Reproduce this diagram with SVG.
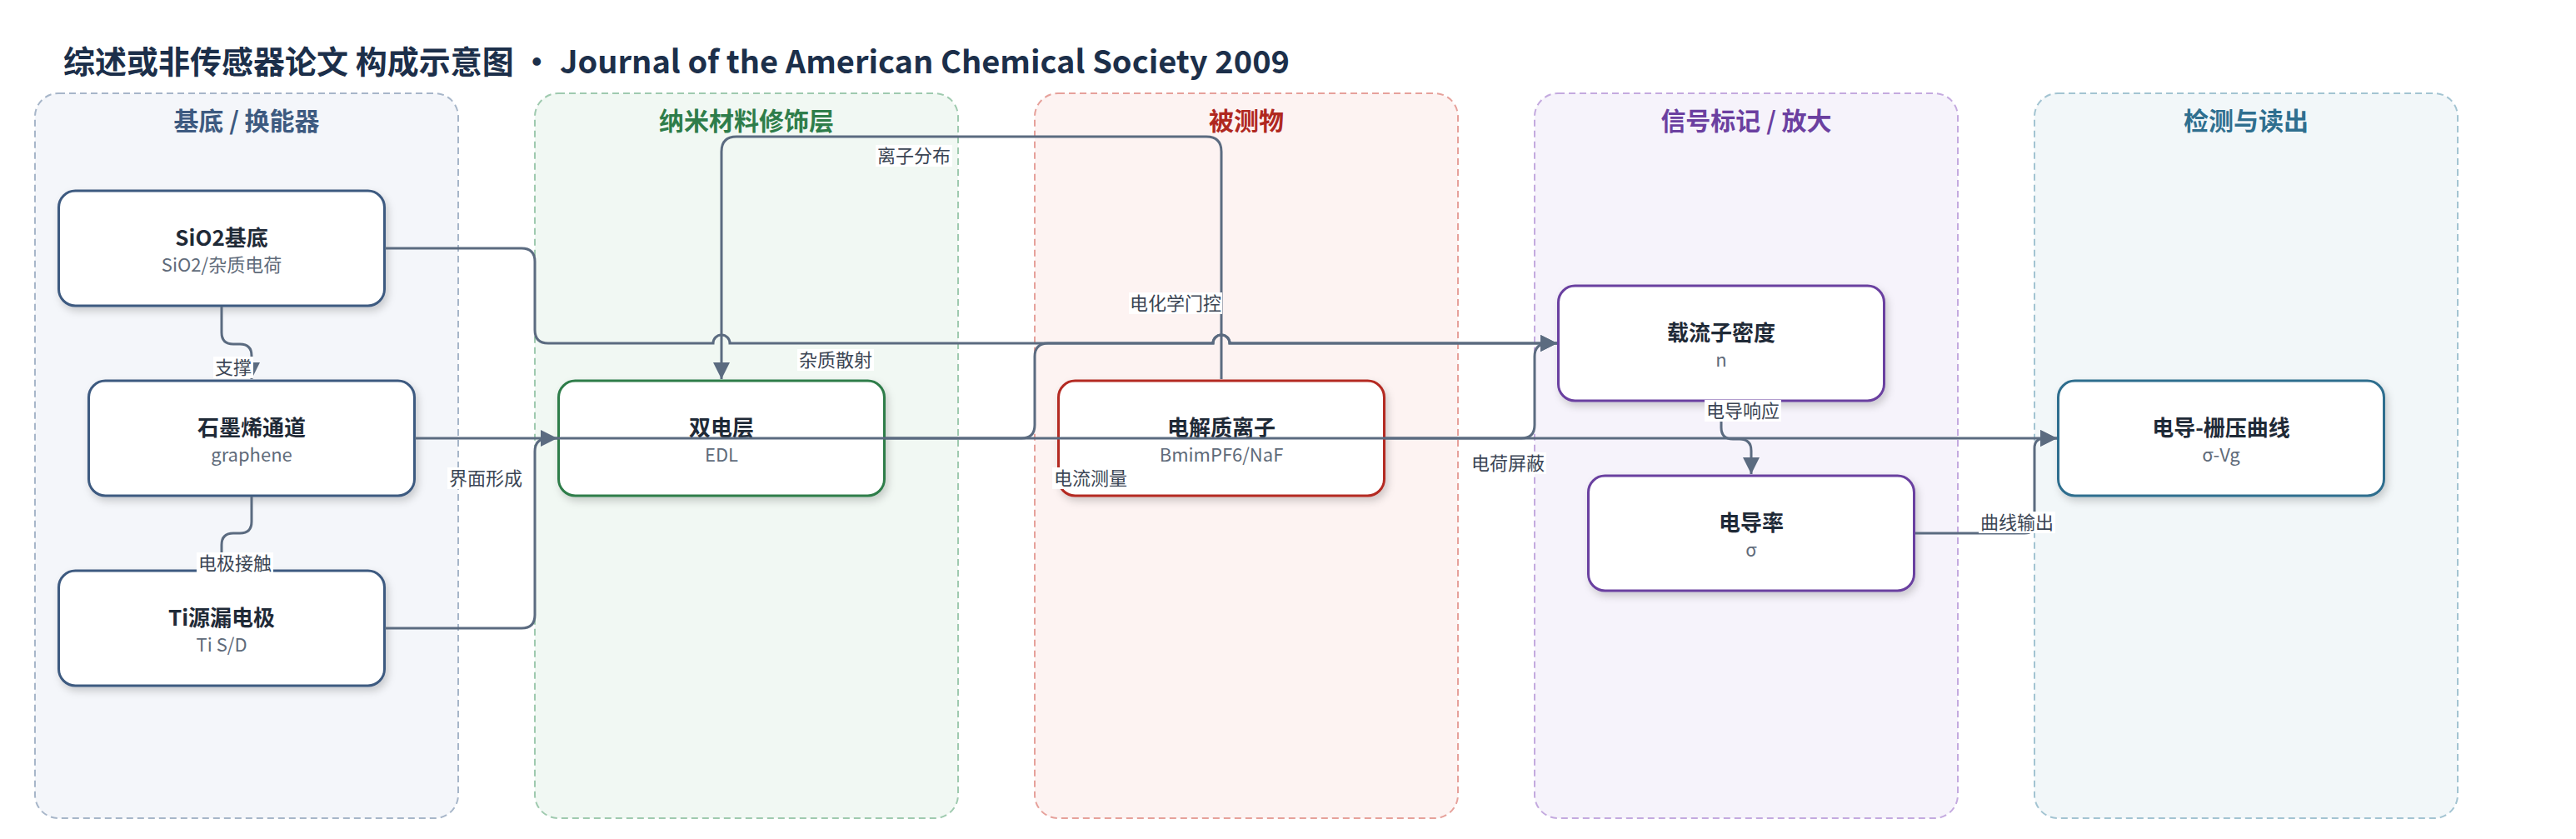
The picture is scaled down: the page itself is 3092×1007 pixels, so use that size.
<svg xmlns="http://www.w3.org/2000/svg" width="3092" height="1007" viewBox="0 0 3092 1007">
<style>
text{font-family:'Noto Sans CJK SC','Noto Sans',sans-serif}
.title{font-size:38px;font-weight:700;fill:#1c2f4a}
.gt{font-size:30px;font-weight:700;text-anchor:middle}
.grp{stroke-width:2;stroke-dasharray:8 5}
.node rect{fill:#fff;stroke-width:3;filter:url(#sh)}
.nt{font-size:26px;font-weight:700;fill:#1f2a37;text-anchor:middle}
.ns{font-size:22px;fill:#5f6b7a;text-anchor:middle}
.edge{fill:none;stroke:#5b6b80;stroke-width:3;marker-end:url(#arr)}
.lbg{fill:#fff}
.lt{font-size:22px;fill:#3b4554;text-anchor:middle}
</style>
<defs>
<marker id="arr" viewBox="0 0 20 20" refX="20" refY="10" markerWidth="20" markerHeight="20" markerUnits="userSpaceOnUse" orient="auto"><path d="M0,0 L20,10 L0,20 z" fill="#5b6b80"/></marker>
<filter id="sh" x="-10%" y="-15%" width="125%" height="145%"><feDropShadow dx="3" dy="5" stdDeviation="5" flood-color="#000" flood-opacity="0.18"/></filter>
</defs>
<rect width="3092" height="1007" fill="#fff"/>
<text class="title" x="76" y="88">综述或非传感器论文 构成示意图 · Journal of the American Chemical Society 2009</text>

<g id="group-substrate"><rect class="grp" x="42" y="112" width="508" height="870" rx="28" fill="#f4f6fa" stroke="#a7b6c9"/><text class="gt" x="296" y="156" fill="#3d5a80">基底 / 换能器</text></g>
<g id="group-nano"><rect class="grp" x="642" y="112" width="508" height="870" rx="28" fill="#f1f8f3" stroke="#9fcaaf"/><text class="gt" x="896" y="156" fill="#2e7d4a">纳米材料修饰层</text></g>
<g id="group-analyte"><rect class="grp" x="1242" y="112" width="508" height="870" rx="28" fill="#fdf3f2" stroke="#e6a19b"/><text class="gt" x="1496" y="156" fill="#b0281f">被测物</text></g>
<g id="group-signal"><rect class="grp" x="1842" y="112" width="508" height="870" rx="28" fill="#f6f3fb" stroke="#c4aadf"/><text class="gt" x="2096" y="156" fill="#6b3fa0">信号标记 / 放大</text></g>
<g id="group-readout"><rect class="grp" x="2442" y="112" width="508" height="870" rx="28" fill="#f2f7f9" stroke="#a3c4d2"/><text class="gt" x="2696" y="156" fill="#2f6f8f">检测与读出</text></g>

<g id="node-sio2" class="node"><rect x="70.5" y="229" width="391" height="138" rx="20" stroke="#3d5a80"/><text class="nt" x="266" y="295">SiO2基底</text><text class="ns" x="266" y="326">SiO2/杂质电荷</text></g>
<g id="node-graphene" class="node"><rect x="106.5" y="457" width="391" height="138" rx="20" stroke="#3d5a80"/><text class="nt" x="302" y="523">石墨烯通道</text><text class="ns" x="302" y="554">graphene</text></g>
<g id="node-ti" class="node"><rect x="70.5" y="685" width="391" height="138" rx="20" stroke="#3d5a80"/><text class="nt" x="266" y="751">Ti源漏电极</text><text class="ns" x="266" y="782">Ti S/D</text></g>
<g id="node-edl" class="node"><rect x="670.5" y="457" width="391" height="138" rx="20" stroke="#2e7d4a"/><text class="nt" x="866" y="523">双电层</text><text class="ns" x="866" y="554">EDL</text></g>
<g id="node-ions" class="node"><rect x="1270.5" y="457" width="391" height="138" rx="20" stroke="#b42a22"/><text class="nt" x="1466" y="523">电解质离子</text><text class="ns" x="1466" y="554">BmimPF6/NaF</text></g>
<g id="node-carrier" class="node"><rect x="1870.5" y="343" width="391" height="138" rx="20" stroke="#6a40a0"/><text class="nt" x="2066" y="409">载流子密度</text><text class="ns" x="2066" y="440">n</text></g>
<g id="node-sigma" class="node"><rect x="1906.5" y="571" width="391" height="138" rx="20" stroke="#6a40a0"/><text class="nt" x="2102" y="637">电导率</text><text class="ns" x="2102" y="668">σ</text></g>
<g id="node-curve" class="node"><rect x="2470.5" y="457" width="391" height="138" rx="20" stroke="#2f6e8e"/><text class="nt" x="2666" y="523">电导-栅压曲线</text><text class="ns" x="2666" y="554">σ-Vg</text></g>

<g id="connectors">
<path class="edge" d="M266 368 V399 Q266 413 280 413 H288 Q302 413 302 427 V455"/>
<path class="edge" d="M302 596 V626 Q302 640 288 640 H280 Q266 640 266 654 V683"/>
<path class="edge" d="M498 526 H669"/>
<path class="edge" d="M462 754 H626 Q642 754 642 738 V542 Q642 526 658 526 H2469"/>
<path class="edge" d="M462 298 H626 Q642 298 642 314 V396 Q642 412 658 412 H856 A10 10 0 0 1 876 412 H1456 A10 10 0 0 1 1476 412 H1869"/>
<path class="edge" d="M1466 455 V182 Q1466 164 1448 164 H884 Q866 164 866 182 V455"/>
<path class="edge" d="M1063 526 H1226 Q1242 526 1242 510 V428 Q1242 412 1258 412 H1456 A10 10 0 0 1 1476 412 H1869"/>
<path class="edge" d="M1663 526 H1826 Q1842 526 1842 510 V428 Q1842 412 1858 412 H1869"/>
<path class="edge" d="M2066 483 V513 Q2066 527 2080 527 H2088 Q2102 527 2102 541 V569"/>
<path class="edge" d="M2299 640 H2430 Q2442 640 2442 628 V538 Q2442 526 2454 526 H2469"/>
</g>

<g id="edge-labels">
<rect class="lbg" x="256" y="428" width="48" height="26"/><text class="lt" x="280" y="449">支撑</text>
<rect class="lbg" x="236" y="663" width="92" height="26"/><text class="lt" x="282" y="684">电极接触</text>
<rect class="lbg" x="537" y="561" width="92" height="26"/><text class="lt" x="583" y="582">界面形成</text>
<rect class="lbg" x="957" y="419" width="92" height="26"/><text class="lt" x="1003" y="440">杂质散射</text>
<rect class="lbg" x="1051" y="174" width="92" height="26"/><text class="lt" x="1097" y="195">离子分布</text>
<rect class="lbg" x="1355" y="351" width="112" height="26"/><text class="lt" x="1411" y="372">电化学门控</text>
<rect class="lbg" x="1263" y="561" width="92" height="26"/><text class="lt" x="1309" y="582">电流测量</text>
<rect class="lbg" x="1764" y="543" width="92" height="26"/><text class="lt" x="1810" y="564">电荷屏蔽</text>
<rect class="lbg" x="2046" y="480" width="92" height="26"/><text class="lt" x="2092" y="501">电导响应</text>
<rect class="lbg" x="2375" y="614" width="92" height="26"/><text class="lt" x="2421" y="635">曲线输出</text>
</g>
</svg>
